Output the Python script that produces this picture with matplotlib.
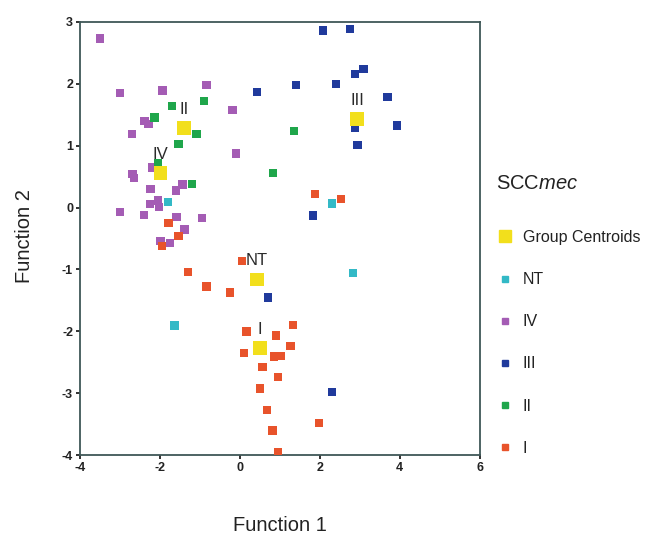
import matplotlib
matplotlib.use("Agg")
import matplotlib.pyplot as plt
from matplotlib.lines import Line2D

plt.rcParams['font.family'] = ['Liberation Sans', 'DejaVu Sans']
plt.rcParams['mathtext.fontset'] = 'custom'
plt.rcParams['mathtext.it'] = 'Liberation Sans:italic'
plt.rcParams['mathtext.rm'] = 'Liberation Sans'
plt.rcParams['axes.unicode_minus'] = False

# discriminant scores per SCCmec type (Function 1, Function 2)
type_I_x = [-1.78, -1.53, -1.95, -1.3, -0.83, -0.25, 0.05, 0.17, 0.9, 1.33, 1.27, 0.1,
            0.85, 1.02, 0.57, 0.95, 0.5, 0.68, 1.98, 0.82, 0.95, 1.88, 2.53]
type_I_y = [-0.25, -0.46, -0.62, -1.04, -1.28, -1.37, -0.86, -2.0, -2.07, -1.9, -2.24, -2.35,
            -2.41, -2.40, -2.58, -2.74, -2.92, -3.27, -3.48, -3.6, -3.95, 0.22, 0.14]

type_II_x = [-1.7, -0.9, -2.13, -1.08, -1.53, -2.05, -1.2, 0.83, 1.35]
type_II_y = [1.64, 1.72, 1.46, 1.19, 1.03, 0.72, 0.38, 0.56, 1.24]

type_III_x = [2.08, 2.75, 3.1, 2.88, 1.4, 2.4, 3.7, 3.93, 2.88, 2.95, 0.43, 1.83, 0.7, 2.3]
type_III_y = [2.86, 2.89, 2.24, 2.16, 1.98, 2.0, 1.79, 1.33, 1.29, 1.01, 1.87, -0.13, -1.45, -2.98]

type_IV_x = [-3.5, -3.0, -1.93, -0.83, -0.18, -2.38, -2.28, -2.7, -0.1, -2.2, -2.68, -2.65,
             -2.23, -1.6, -1.43, -2.25, -2.05, -2.02, -3.0, -2.4, -1.58, -0.95, -1.38, -1.98, -1.75]
type_IV_y = [2.73, 1.85, 1.89, 1.98, 1.58, 1.40, 1.35, 1.19, 0.87, 0.65, 0.54, 0.48,
             0.30, 0.28, 0.37, 0.06, 0.11, 0.01, -0.07, -0.12, -0.15, -0.17, -0.35, -0.54, -0.57]

nt_x = [-1.8, 2.3, 2.83, -1.63]
nt_y = [0.09, 0.07, -1.06, -1.91]

centroid_labels = ['I', 'II', 'III', 'IV', 'NT']
centroid_x = [0.5, -1.4, 2.93, -1.98, 0.43]
centroid_y = [-2.27, 1.29, 1.43, 0.56, -1.16]

c_I = '#e8532b'
c_II = '#1fa64b'
c_III = '#203a9c'
c_IV = '#a45cb4'
c_NT = '#33b9c6'
c_cent = '#f2df1c'

fig = plt.figure(figsize=(6.5, 5.36), dpi=100)
ax = fig.add_axes([0.123, 0.151, 0.615, 0.808])

s = 38
ax.scatter(type_IV_x, type_IV_y, s=s, marker='s', color=c_IV, edgecolors='none', zorder=3)
ax.scatter(type_II_x, type_II_y, s=s, marker='s', color=c_II, edgecolors='none', zorder=3)
ax.scatter(type_III_x, type_III_y, s=s, marker='s', color=c_III, edgecolors='none', zorder=3)
ax.scatter(type_I_x, type_I_y, s=s, marker='s', color=c_I, edgecolors='none', zorder=3)
ax.scatter(nt_x, nt_y, s=s, marker='s', color=c_NT, edgecolors='none', zorder=3)
ax.scatter(centroid_x, centroid_y, s=95, marker='s', color=c_cent, edgecolors='none', zorder=4)

for lab, cx, cy in zip(centroid_labels, centroid_x, centroid_y):
    ax.annotate(lab, (cx, cy), xytext=(0, 13.5), textcoords='offset points',
                ha='center', va='center', fontsize=12, color='#2a2a2a', zorder=5)

ax.set_xlim(-4, 6)
ax.set_ylim(-4, 3)
ax.set_xticks(range(-4, 7, 2))
ax.set_yticks(range(-4, 4))
spine_c = '#3f5757'
for sp in ax.spines.values():
    sp.set_color(spine_c)
    sp.set_linewidth(1.3)
ax.tick_params(direction='out', length=3, width=1.3, color='#222222', labelsize=9, pad=2)
for t in ax.get_xticklabels() + ax.get_yticklabels():
    t.set_fontweight('bold')
    t.set_color('#222222')

fig.text(0.43, 0.0205, 'Function 1', ha='center', va='center', fontsize=14.5, color='#222222')
fig.text(0.038, 0.56, 'Function 2', ha='center', va='center', rotation=90, fontsize=14.5, color='#222222')

# legend
fig.text(0.763, 0.658, r'SCC$\it{mec}$', ha='left', va='center', fontsize=14.5, color='#222222')
handles = [
    Line2D([], [], marker='s', ls='none', color=c_cent, markersize=8),
    Line2D([], [], marker='s', ls='none', color=c_NT, markersize=4.5),
    Line2D([], [], marker='s', ls='none', color=c_IV, markersize=4.5),
    Line2D([], [], marker='s', ls='none', color=c_III, markersize=4.5),
    Line2D([], [], marker='s', ls='none', color=c_II, markersize=4.5),
    Line2D([], [], marker='s', ls='none', color=c_I, markersize=4.5),
]
names = ['Group Centroids', 'NT', 'IV', 'III', 'II', 'I']
leg = fig.legend(handles, names, loc='upper left', bbox_to_anchor=(0.767, 0.571),
                 frameon=False, fontsize=11.5, labelspacing=1.7, handlelength=0.8,
                 handletextpad=0.73, borderaxespad=0, borderpad=0)
for t in leg.get_texts():
    t.set_color('#222222')

fig.savefig('out.png', dpi=100)
